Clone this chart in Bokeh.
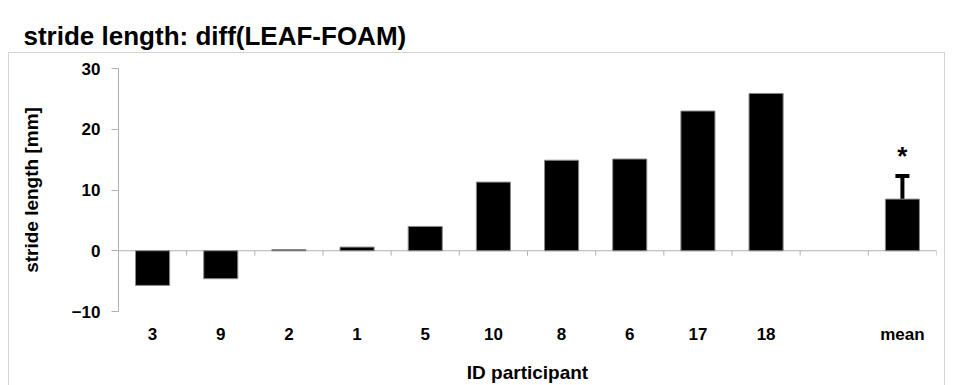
from bokeh.plotting import figure
from bokeh.models import FactorRange, Range1d, Span, Whisker, TeeHead, ColumnDataSource
from bokeh.core.properties import value
from bokeh.embed import file_html
from bokeh.resources import INLINE

participants = ["3", "9", "2", "1", "5", "10", "8", "6", "17", "18"]
diff_mm = [-5.7, -4.6, 0.2, 0.6, 4.0, 11.3, 14.9, 15.1, 23.0, 25.9]
mean_label = "mean"
mean_value = 8.5
mean_sd = 3.8
categories = participants + [" ", mean_label]
y_ticks = [-10, 0, 10, 20, 30]
chart_title = "stride length: diff(LEAF-FOAM)"

FONT = "Liberation Sans"
AXIS_GREY = "#b0b0b0"
BOX_GREY = "#d4d4d4"

# thin frame around the chart body (drawn as CSS background behind a transparent canvas)
_line = f"linear-gradient({BOX_GREY},{BOX_GREY})"
box_css = (f"{_line} 8px 52px / 937px 1px no-repeat, "
           f"{_line} 8px 52px / 1px 400px no-repeat, "
           f"{_line} 944px 52px / 1px 400px no-repeat, #ffffff")

p = figure(width=953, height=385,
           x_range=FactorRange(*categories, range_padding=0, factor_padding=0),
           y_range=Range1d(-10, 30),
           output_backend="svg", toolbar_location=None,
           min_border_left=118, min_border_right=17, min_border_top=67, min_border_bottom=74,
           title=chart_title,
           styles={"background": box_css})

p.border_fill_alpha = 0
p.background_fill_alpha = 0

p.title.text_font = FONT
p.title.text_font_size = "26px"
p.title.text_font_style = "bold"
p.title.text_color = "#000000"
p.title.text_line_height = 1.0
p.title.offset = -95
p.title.standoff = 36

p.outline_line_color = None
p.xgrid.grid_line_color = None
p.ygrid.grid_line_color = None

# y axis
p.yaxis.ticker = y_ticks
p.yaxis.axis_line_color = AXIS_GREY
p.yaxis.major_tick_line_color = AXIS_GREY
p.yaxis.major_tick_out = 7
p.yaxis.major_tick_in = 0
p.yaxis.minor_tick_line_color = None
p.yaxis.major_label_text_font = FONT
p.yaxis.major_label_text_font_size = "17px"
p.yaxis.major_label_text_font_style = "bold"
p.yaxis.major_label_text_color = "#000000"
p.yaxis.major_label_standoff = 11
p.yaxis.axis_label = "stride length [mm]"
p.yaxis.axis_label_text_font = FONT
p.yaxis.axis_label_text_font_size = "19px"
p.yaxis.axis_label_text_font_style = "bold"
p.yaxis.axis_label_text_color = "#000000"
p.yaxis.axis_label_standoff = 27

# x axis (labels at the bottom, line drawn at zero)
p.xaxis.axis_line_color = None
p.xaxis.major_tick_line_color = None
p.xaxis.major_tick_out = 0
p.xaxis.major_tick_in = 0
p.xaxis.minor_tick_line_color = None
p.xaxis.major_label_text_font = FONT
p.xaxis.major_label_text_font_size = "17px"
p.xaxis.major_label_text_font_style = "bold"
p.xaxis.major_label_text_color = "#000000"
p.xaxis.major_label_standoff = 13
p.xaxis.axis_label = "ID participant"
p.xaxis.axis_label_text_font = FONT
p.xaxis.axis_label_text_font_size = "19px"
p.xaxis.axis_label_text_font_style = "bold"
p.xaxis.axis_label_text_color = "#000000"
p.xaxis.axis_label_standoff = 15

p.add_layout(Span(location=0, dimension="width", line_color=AXIS_GREY, line_width=1, level="underlay"))
bounds = list(range(len(categories) + 1))
p.segment(x0=bounds, y0=[0] * len(bounds), x1=bounds, y1=[-0.8] * len(bounds),
          line_color=AXIS_GREY, line_width=1)

# bars
p.vbar(x=participants, top=diff_mm, width=0.5, fill_color="#000000", line_color="#8a8a8a", line_width=1)
p.vbar(x=[mean_label], top=[mean_value], width=0.5, fill_color="#000000", line_color="#8a8a8a", line_width=1)

err_src = ColumnDataSource(dict(base=[mean_label], lower=[mean_value], upper=[mean_value + mean_sd]))
p.add_layout(Whisker(source=err_src, base="base", lower="lower", upper="upper", dimension="height",
                     line_color="#000000", line_width=4,
                     upper_head=TeeHead(size=14, line_width=4, line_color="#000000"),
                     lower_head=None))

p.text(x=[mean_label], y=[mean_value + mean_sd + 3.3], text=["*"],
       text_font=value(FONT), text_font_style="bold", text_font_size="26px",
       text_align="center", text_baseline="alphabetic", text_color="#000000")

open("out.html", "w").write(file_html(p, INLINE))
